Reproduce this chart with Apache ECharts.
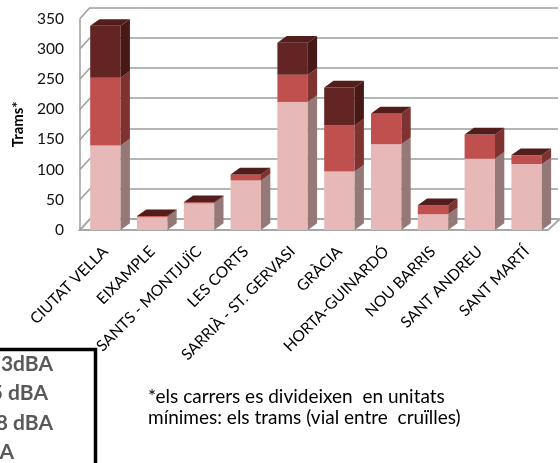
<!DOCTYPE html>
<html><head><meta charset="utf-8">
<script src="https://cdn.jsdelivr.net/npm/echarts@6/dist/echarts.min.js"></script>
<style>html,body{margin:0;padding:0;background:#fff;overflow:hidden}#c{width:560px;height:463px}</style>
</head><body><div id="c"></div>
<script>
const categories = ['CIUTAT VELLA','EIXAMPLE','SANTS - MONTJUÏC','LES CORTS','SARRIÀ - ST. GERVASI','GRÀCIA','HORTA-GUINARDÓ','NOU BARRIS','SANT ANDREU','SANT MARTÍ'];
const lowLevel  = [140, 21, 44, 82, 212, 97, 142, 26, 118, 109];
const midLevel  = [112, 2, 2, 10, 45, 76, 51, 15, 40, 15];
const highLevel = [86, 0, 0, 0, 53, 63, 0, 0, 0, 0];
const yTicks = [0, 50, 100, 150, 200, 250, 300, 350];
const legendLabels = ['3dBA', '5 dBA', '8 dBA', 'A'];
const noteLines = ['*els carrers es divideixen  en unitats', 'mínimes: els trams (vial entre  cruïlles)'];

const FONT = 'Lato';
const DEPTH = [9.3, -6.7];
const WALL = [10, -11];
const layers = [
  {data: lowLevel,  front: '#E6B9B8', side: '#957978', top: '#E6B9B8'},
  {data: midLevel,  front: '#C0504D', side: '#7E3330', top: '#C0504D'},
  {data: highLevel, front: '#632523', side: '#461816', top: '#521D1B'}
];

function makeRender(k) {
  const L = layers[k];
  return function (params, api) {
    const i = api.value(0);
    let base = 0;
    for (let j = 0; j < k; j++) base += layers[j].data[i];
    const v = L.data[i];
    const p0 = api.coord([i, base]);
    const p1 = api.coord([i, base + v]);
    const bw = api.size([1, 0])[0] * 0.65;
    const xl = p0[0] - bw / 2, xr = p0[0] + bw / 2;
    const yb = p0[1], yt = p1[1];
    const dx = DEPTH[0], dy = DEPTH[1];
    const children = [
      {type: 'rect', shape: {x: xl, y: yt, width: bw, height: yb - yt}, style: {fill: L.front}},
      {type: 'polygon', shape: {points: [[xr, yb], [xr + dx, yb + dy], [xr + dx, yt + dy], [xr, yt]]}, style: {fill: L.side}}
    ];
    if (k === layers.length - 1) {
      children.push({type: 'polygon', shape: {points: [[xl, yt], [xr, yt], [xr + dx, yt + dy], [xl + dx, yt + dy]]}, style: {fill: L.top}});
    }
    return {type: 'group', children: children};
  };
}

function renderFrame(params, api) {
  const v = api.value(1);
  const cs = params.coordSys;
  const xf = cs.x - 2;
  const yf = api.coord([0, v])[1];
  const lineStyle = {stroke: '#9c9c9c', lineWidth: 1.5, fill: null};
  const children = [
    {type: 'line', shape: {x1: xf, y1: yf, x2: xf + WALL[0], y2: yf + WALL[1]}, style: lineStyle}
  ];
  if (params.dataIndex === 0) {
    const xr = cs.x + cs.width - 2;
    children.push({type: 'polygon', shape: {points: [[xf, yf], [xr, yf], [xr + WALL[0] + 2, yf + WALL[1]], [xf + WALL[0], yf + WALL[1]]]},
      style: {fill: '#ffffff', stroke: '#a8a8a8', lineWidth: 2}});
    const ytop = api.coord([0, yTicks[yTicks.length - 1]])[1];
    children.push({type: 'line', shape: {x1: xf, y1: yf, x2: xf, y2: ytop}, style: lineStyle});
  }
  return {type: 'group', children: children};
}

const chart = echarts.init(document.getElementById('c'), null, {renderer: 'canvas'});

const series = [
  {type: 'custom', xAxisIndex: 0, yAxisIndex: 0, renderItem: renderFrame, z: 1,
   data: yTicks.map(t => [0, t]), silent: true}
];
layers.forEach((L, k) => {
  series.push({type: 'custom', xAxisIndex: 0, yAxisIndex: 0, renderItem: makeRender(k), z: 3 + k,
    encode: {x: 0, y: 1}, data: categories.map((c, i) => [i, L.data[i]])});
});

const graphics = [
  {type: 'rect', left: -10, top: 347, shape: {x: 0, y: 0, width: 103, height: 140},
   style: {fill: null, stroke: '#000', lineWidth: 3.5}, z: 10}
];
const legendEnds = [53, 48, 53, 14];
legendLabels.forEach((t, i) => {
  graphics.push({type: 'text', x: legendEnds[i], y: 364 + i * 29.5, z: 10,
    style: {text: t, font: 'bold 21px ' + FONT, fill: '#595959', align: 'right', verticalAlign: 'middle'}});
});
noteLines.forEach((t, i) => {
  graphics.push({type: 'text', x: 148, y: 397 + i * 21, z: 10,
    style: {text: t, font: '19px ' + FONT, fill: '#000', align: 'left', verticalAlign: 'middle'}});
});

chart.setOption({
  animation: false,
  textStyle: {fontFamily: FONT},
  grid: [
    {left: 82, right: 10, top: 18.6, bottom: 233},
    {left: 90, right: 2, top: 7.6, bottom: 244}
  ],
  xAxis: [
    {type: 'category', gridIndex: 0, data: categories,
     axisLine: {show: false}, axisTick: {show: false},
     axisLabel: {interval: 0, rotate: 45, margin: 19, fontSize: 15.5, color: '#000', fontFamily: FONT}},
    {type: 'value', gridIndex: 1, show: false, min: 0, max: 1}
  ],
  yAxis: [
    {type: 'value', gridIndex: 0, min: 0, max: 350, interval: 50,
     name: 'Trams*', nameLocation: 'middle', nameGap: 54,
     nameTextStyle: {fontWeight: 'bold', fontSize: 15, color: '#000', fontFamily: FONT},
     axisLine: {show: false}, axisTick: {show: false}, splitLine: {show: false},
     axisLabel: {margin: 18, fontSize: 15.5, color: '#111', fontFamily: FONT}},
    {type: 'value', gridIndex: 1, min: 0, max: 350, interval: 50,
     axisLine: {show: false}, axisTick: {show: false}, axisLabel: {show: false},
     splitLine: {show: true, lineStyle: {color: '#9c9c9c', width: 1.5}}}
  ],
  series: series,
  graphic: graphics
});
</script>
</body></html>
